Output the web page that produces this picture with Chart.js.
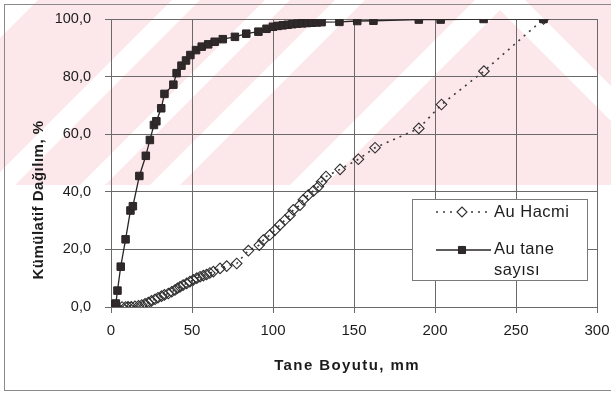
<!DOCTYPE html>
<html>
<head>
<meta charset="utf-8">
<script src="https://cdn.jsdelivr.net/npm/chart.js@4.4.1/dist/chart.umd.min.js"></script>
<style>
  html, body { margin: 0; padding: 0; background: #fff; }
  #wrap { width: 611px; height: 395px; position: relative; }
</style>
</head>
<body>
<div id="wrap"><canvas id="c" width="611" height="395"></canvas></div>
<script>
// Grain size (mm) vs cumulative distribution (%)
const hacmiX = [1, 3.7, 6.8, 9, 10.5, 12.5, 14.8, 17, 19, 21, 23, 25, 27.2, 29, 31.2, 33, 35.4, 37.5, 39.5, 41,
  42.6, 44.5, 46.7, 48.7, 50.8, 53, 55, 57, 59, 61, 63.2, 67.3, 71.4, 77.6, 84.8, 91.5, 94, 98, 101.2, 104.3,
  107.4, 110.5, 112.5, 116.7, 118.7, 121.8, 125, 128, 130, 132.7, 141.4, 152.7, 163, 190, 204, 230.2, 267];
const hacmiY = [0, 0, 0, 0, 0.1, 0.1, 0.2, 0.4, 0.7, 1.1, 1.5, 2.1, 2.7, 3.2, 3.8, 4.2, 4.7, 5.3, 5.9, 6.5,
  7, 7.6, 8.2, 8.8, 9.4, 10, 10.5, 10.9, 11.3, 11.8, 12.3, 13.4, 14.2, 15.1, 19.6, 21.5, 23.2, 25, 26.7, 28.5,
  30.2, 31.9, 33.7, 35.4, 37.2, 38.9, 40.3, 41.8, 43.5, 45.3, 47.8, 51.3, 55.3, 62, 70.3, 81.9, 100];

const taneX = [0.5, 1, 1.5, 2, 2.5, 3, 4, 6, 9, 12, 13.5, 17.5, 21.5, 24, 26.5, 28, 31, 33, 38.5, 40.5,
  43.5, 46.3, 49, 52.5, 56, 60, 64, 69, 76.5, 83.5, 91, 96, 100, 103, 106, 109, 112, 115, 118, 121,
  124, 127, 130, 141, 152, 162, 190, 203.5, 230, 267];
const taneY = [0.3, 0.5, 0.6, 0.8, 1.0, 1.2, 5.7, 14, 23.5, 33.5, 35, 45.5, 52.5, 58, 63.2, 64.5, 69, 74, 77.2, 81.2,
  83.8, 85.6, 87.5, 89.2, 90.4, 91.2, 92.1, 93, 93.8, 94.9, 95.6, 96.6, 97.3, 97.6, 97.8, 98, 98.2, 98.4, 98.5, 98.6,
  98.7, 98.8, 98.9, 99.0, 99.3, 99.4, 99.8, 99.8, 100, 100];

const xTicks = [0, 50, 100, 150, 200, 250, 300];
const yTicks = [0, 20, 40, 60, 80, 100];
const hacmiName = 'Au Hacmi';
const taneName = ['Au tane', 'sayısı'];
const xTitle = 'Tane Boyutu, mm';
const yTitle = 'Kümülatif Dağılım, %';

const FONT = '"Liberation Sans", Arial, sans-serif';
const INK = '#1c1c1c';
const GRID = '#6a6a6a';

const toPoints = (xs, ys) => xs.map((v, i) => ({ x: v, y: ys[i] }));

const hacmiStyle = {
  borderColor: '#3a3a3a', borderWidth: 1.6, borderDash: [2, 5],
  pointStyle: 'rectRot', pointRadius: 5.3, pointBorderWidth: 1.1,
  pointBorderColor: '#2e2e2e', pointBackgroundColor: 'rgba(0,0,0,0)'
};
const taneStyle = {
  borderColor: '#2a2626', borderWidth: 1.3,
  pointStyle: 'rect', pointRadius: 5.3, pointBorderWidth: 1,
  pointBorderColor: '#2a2426', pointBackgroundColor: '#2f292a'
};

// page background, faint diagonal watermark and the outer frame
const backdrop = {
  id: 'backdrop',
  beforeDraw(chart) {
    const ctx = chart.ctx;
    const W = chart.width, H = 185;
    ctx.save();
    ctx.fillStyle = '#fff';
    ctx.fillRect(0, 0, chart.width, chart.height);
    ctx.beginPath(); ctx.rect(0, 0, W, H); ctx.clip();
    ctx.fillStyle = '#fce8eb';
    ctx.fillRect(0, 0, W, H);
    ctx.fillStyle = '#fff';
    const bands = [[0, 38], [172, 200], [265, 290], [335, 365], [475, 510]];
    const apex = 500;
    ctx.save();
    ctx.beginPath(); ctx.rect(0, 0, apex, H); ctx.clip();
    for (const [a, b] of bands) {
      ctx.beginPath();
      ctx.moveTo(a, 0); ctx.lineTo(b, 0); ctx.lineTo(b - H, H); ctx.lineTo(a - H, H);
      ctx.closePath(); ctx.fill();
    }
    ctx.restore();
    ctx.save();
    ctx.beginPath(); ctx.rect(apex, 0, W - apex, H); ctx.clip();
    for (const [a, b] of bands) {
      ctx.beginPath();
      ctx.moveTo(2 * apex - a, 0); ctx.lineTo(2 * apex - b, 0);
      ctx.lineTo(2 * apex - b + H, H); ctx.lineTo(2 * apex - a + H, H);
      ctx.closePath(); ctx.fill();
    }
    ctx.restore();
    ctx.restore();

    ctx.save();
    ctx.strokeStyle = '#8a8a8a';
    ctx.lineWidth = 1;
    ctx.strokeRect(4.5, 4.5, 640, 386);
    ctx.restore();
  }
};

// axis titles and the boxed legend
const annotations = {
  id: 'annotations',
  afterDraw(chart) {
    const ctx = chart.ctx;
    ctx.save();
    ctx.fillStyle = INK;
    ctx.textAlign = 'center';
    ctx.textBaseline = 'middle';
    ctx.font = 'bold 15px ' + FONT;
    ctx.letterSpacing = '1.4px';
    ctx.fillText(xTitle, 347, 366);
    ctx.save();
    ctx.translate(38.5, 200);
    ctx.rotate(-Math.PI / 2);
    ctx.letterSpacing = '0.5px';
    ctx.fillText(yTitle, 0, 0);
    ctx.restore();

    // legend box
    const bx = 412.5, by = 199.5, bw = 175, bh = 81;
    ctx.fillStyle = '#fff';
    ctx.fillRect(bx, by, bw, bh);
    ctx.strokeStyle = '#7a7a7a';
    ctx.lineWidth = 1;
    ctx.strokeRect(bx, by, bw, bh);

    const lx0 = 436, lx1 = 491, mx = 462, tx = 494;
    let y = 212;
    ctx.save();
    ctx.strokeStyle = hacmiStyle.borderColor;
    ctx.lineWidth = hacmiStyle.borderWidth;
    ctx.setLineDash(hacmiStyle.borderDash);
    ctx.beginPath(); ctx.moveTo(lx0, y); ctx.lineTo(lx1, y); ctx.stroke();
    ctx.restore();
    ctx.save();
    ctx.fillStyle = '#fff';
    ctx.strokeStyle = hacmiStyle.pointBorderColor;
    ctx.lineWidth = hacmiStyle.pointBorderWidth;
    Chart.helpers.drawPoint(ctx, { pointStyle: 'rectRot', radius: 5, rotation: 0, borderWidth: 1.1 }, mx, y);
    ctx.restore();
    y = 250;
    ctx.save();
    ctx.strokeStyle = taneStyle.borderColor;
    ctx.lineWidth = taneStyle.borderWidth;
    ctx.beginPath(); ctx.moveTo(lx0, y); ctx.lineTo(lx1, y); ctx.stroke();
    ctx.fillStyle = taneStyle.pointBackgroundColor;
    ctx.strokeStyle = taneStyle.pointBorderColor;
    ctx.lineWidth = 1;
    Chart.helpers.drawPoint(ctx, { pointStyle: 'rect', radius: 5, rotation: 0, borderWidth: 1 }, mx, y);
    ctx.restore();

    ctx.fillStyle = INK;
    ctx.textAlign = 'left';
    ctx.textBaseline = 'middle';
    ctx.font = '16.5px ' + FONT;
    ctx.letterSpacing = '0.5px';
    ctx.fillText(hacmiName, tx, 212);
    ctx.fillText(taneName[0], tx, 249);
    ctx.fillText(taneName[1], tx, 270);
    ctx.restore();
  }
};

const fmt = v => Number(v).toFixed(1).replace('.', ',');

new Chart(document.getElementById('c'), {
  type: 'scatter',
  data: {
    datasets: [
      Object.assign({ label: hacmiName, data: toPoints(hacmiX, hacmiY), showLine: true, order: 2, tension: 0 }, hacmiStyle),
      Object.assign({ label: taneName.join(' '), data: toPoints(taneX, taneY), showLine: true, order: 1, tension: 0 }, taneStyle)
    ]
  },
  options: {
    responsive: false,
    animation: false,
    devicePixelRatio: 1,
    layout: { padding: { left: 0, top: 19, right: 14, bottom: 0 } },
    plugins: { legend: { display: false }, tooltip: { enabled: false } },
    scales: {
      x: {
        type: 'linear', min: 0, max: 300,
        afterBuildTicks: s => { s.ticks = xTicks.map(v => ({ value: v })); },
        afterFit: s => { s.height = 88; s.paddingLeft = 0; s.paddingRight = 0; },
        ticks: { color: INK, font: { family: FONT, size: 15 }, padding: 9, maxRotation: 0 },
        grid: { color: GRID, lineWidth: 1, tickLength: 6, tickColor: GRID },
        border: { color: GRID, width: 1 }
      },
      y: {
        type: 'linear', min: 0, max: 100,
        afterBuildTicks: s => { s.ticks = yTicks.map(v => ({ value: v })); },
        afterFit: s => { s.width = 111; s.paddingTop = 0; s.paddingBottom = 0; },
        ticks: { color: INK, font: { family: FONT, size: 14.5 }, padding: 14, callback: v => fmt(v) },
        grid: { color: GRID, lineWidth: 1, tickLength: 6, tickColor: GRID },
        border: { color: GRID, width: 1 }
      }
    }
  },
  plugins: [backdrop, annotations]
});
</script>
</body>
</html>
